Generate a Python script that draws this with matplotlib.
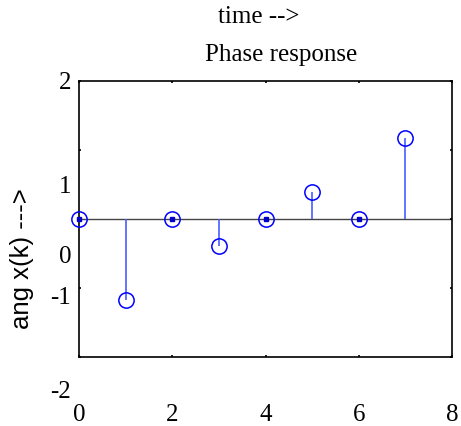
import numpy as np
import matplotlib.pyplot as plt

# phase response samples
k = [0, 1, 2, 3, 4, 5, 6, 7]
phase = [0.0, -1.18, 0.0, -0.39, 0.0, 0.39, 0.0, 1.18]

xticks = [0, 2, 4, 6, 8]
yticks = [-2, -1, 0, 1, 2]
# y tick labels sit off their ticks in the original export
ytick_labels = ['2', '1', '0', '-1', '-2']
ytick_label_px = [83, 187, 257, 298, 392]

W, H = 461, 427
serif = 'Liberation Serif'
sans = 'Liberation Sans'
fs = 18

fig = plt.figure(figsize=(W / 100, H / 100), dpi=100)
ax = fig.add_axes([79 / W, 1 - 358 / H, (452 - 79) / W, (358 - 82) / H])

ax.axhline(0, color='#444444', lw=1.0, zorder=1)

k_arr = np.array(k)
ph = np.array(phase)
ax.vlines(k_arr, 0, ph, color='#4a5cff', lw=1.2, zorder=2)
ax.plot(k_arr, ph, 'o', ms=11, mfc='none', mec='#0000ff', mew=1.1,
        zorder=3, clip_on=False)
# tiny dots where the stem has zero length
zero = ph == 0
ax.plot(k_arr[zero], ph[zero], 's', ms=2.5, color='#0000cc', zorder=4,
        clip_on=False)

ax.set_xlim(0, 8)
ax.set_ylim(-2, 2)
ax.set_xticks(xticks)
ax.set_yticks(yticks)
ax.set_yticklabels([])
ax.tick_params(direction='in', length=1.5, width=1.2, top=True, right=True,
               labelsize=fs, pad=33)
for lab in ax.get_xticklabels():
    lab.set_family(serif)
for s in ax.spines.values():
    s.set_linewidth(1.2)

for lab, ypx in zip(ytick_labels, ytick_label_px):
    fig.text(71 / W, 1 - ypx / H, lab, ha='right', va='center',
             fontsize=fs, family=serif)

fig.text(22 / W, 1 - 259 / H, 'ang x(k) --->', rotation=90, ha='center',
         va='center', fontsize=18.5, family=sans)
fig.text(281 / W, 1 - 55 / H, 'Phase response', ha='center', va='center',
         fontsize=fs, family=serif)
fig.text(259 / W, 1 - 17 / H, 'time -->', ha='center', va='center',
         fontsize=fs, family=serif)

fig.savefig('out.png', dpi=100)
